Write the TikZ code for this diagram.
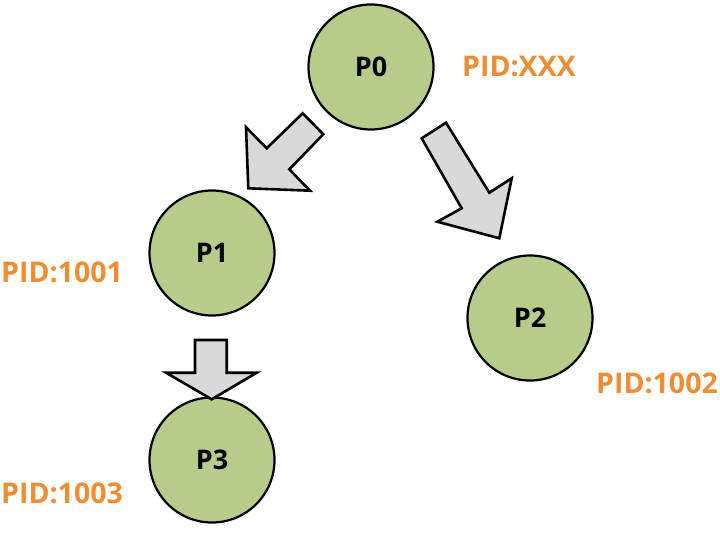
\documentclass[tikz,border=0pt]{standalone}
\usepackage{fontspec}
\setmainfont{Open Sans}
\definecolor{procgreen}{RGB}{181,204,138}
\definecolor{pidorange}{RGB}{240,140,50}
\definecolor{arrowgray}{RGB}{217,217,217}
\begin{document}
\begin{tikzpicture}[x=1pt,y=-1pt,
  proc/.style={circle,draw=black,line width=2.2pt,fill=procgreen,minimum size=125pt,inner sep=0pt,font=\fontsize{27}{30}\selectfont\bfseries},
  pid/.style={text=pidorange,inner sep=0pt,font=\fontsize{28.5}{32}\selectfont\bfseries},
  blockarrow/.style={draw=black,line width=2.6pt,fill=arrowgray,line join=miter}]
\useasboundingbox (0,0) rectangle (720,548);
\node[proc] (p0) at (371,67) {P0};
\node[proc] (p1) at (212,253) {P1};
\node[proc] (p2) at (530,318) {P2};
\node[proc] (p3) at (212,460) {P3};
\node[pid,anchor=west] (l0) at (462,67) {PID:XXX};
\node[pid,anchor=west] (l1) at (1,272) {PID:1001};
\node[pid,anchor=east] (l2) at (718,383) {PID:1002};
\node[pid,anchor=west] (l3) at (1,493) {PID:1003};
% block arrows
\draw[blockarrow] (302.7,113.3) -- (323.3,134.3) -- (289.3,169.3) -- (310,190.7) -- (248.3,188.3) -- (246,127.3) -- (266.7,148.3) -- cycle;
\draw[blockarrow] (421.7,138.3) -- (446,122.7) -- (489.3,192.7) -- (511.7,178.3) -- (499.3,238.3) -- (437.3,221.7) -- (461.7,208.3) -- cycle;
\draw[blockarrow] (195,340) -- (226.7,340) -- (226.7,372.7) -- (256.7,372.7) -- (211.7,399.3) -- (166,372.7) -- (195,372.7) -- cycle;
\end{tikzpicture}
\end{document}
